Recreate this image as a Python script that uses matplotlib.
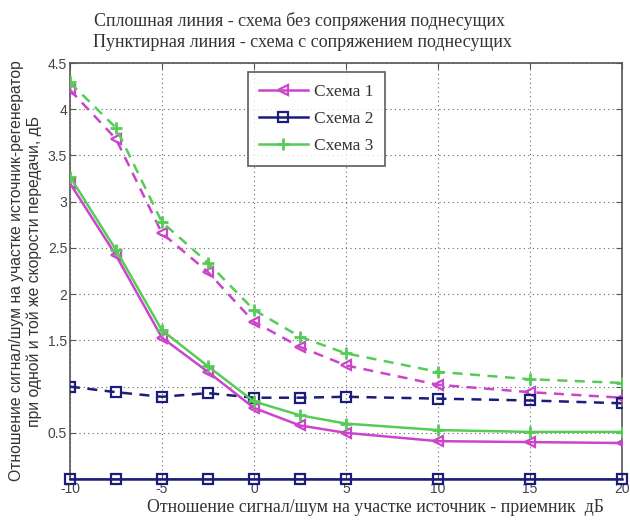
import matplotlib
matplotlib.use("Agg")
import matplotlib.pyplot as plt
import numpy as np

x = [-10, -7.5, -5, -2.5, 0, 2.5, 5, 10, 15, 20]

s1_solid = [3.20, 2.42, 1.53, 1.16, 0.77, 0.58, 0.50, 0.41, 0.40, 0.39]
s2_solid = [0, 0, 0, 0, 0, 0, 0, 0, 0, 0]
s3_solid = [3.27, 2.48, 1.61, 1.22, 0.84, 0.69, 0.60, 0.53, 0.51, 0.51]

s1_dash = [4.21, 3.68, 2.66, 2.24, 1.70, 1.43, 1.23, 1.02, 0.94, 0.88]
s2_dash = [1.00, 0.94, 0.89, 0.93, 0.88, 0.88, 0.89, 0.87, 0.85, 0.82]
s3_dash = [4.29, 3.80, 2.78, 2.34, 1.83, 1.54, 1.36, 1.16, 1.08, 1.04]

labels = ["Схема 1", "Схема 2", "Схема 3"]
title_lines = ["Сплошная линия - схема без сопряжения поднесущих",
               "Пунктирная линия - схема с сопряжением поднесущих"]
xlabel = "Отношение сигнал/шум на участке источник - приемник  дБ"
ylabel = ("Отношение сигнал/шум на участке источник-регенератор\n"
          "при одной и той же скорости передачи, дБ")
xticks = [-10, -5, 0, 5, 10, 15, 20]
yticks = [0, 0.5, 1, 1.5, 2, 2.5, 3, 3.5, 4, 4.5]
yticklabels = ["", "0.5", "", "1.5", "2", "2.5", "3", "3.5", "4", "4.5"]

c1 = "#cc44cc"
c2 = "#1c1c7a"
c3 = "#55cc55"

serif = ["Liberation Serif", "DejaVu Serif"]
sans = ["Liberation Sans", "DejaVu Sans"]

fig = plt.figure(figsize=(6.3, 5.23), dpi=100)
ax = fig.add_axes([0.111, 0.084, 0.876, 0.7955])

lw = 1.8
ms = 7
ax.plot(x, s1_dash, color=c1, ls=(0, (4, 3)), lw=lw, marker="<", ms=ms, mfc="none", mew=1.6, zorder=3)
ax.plot(x, s2_dash, color=c2, ls=(0, (4, 3)), lw=lw, marker="s", ms=ms, mfc="none", mew=1.6, zorder=3)
ax.plot(x, s3_dash, color=c3, ls=(0, (4, 3)), lw=lw, marker="+", ms=9, mew=2, zorder=3)

ax.plot(x, s1_solid, color=c1, ls="-", lw=lw, marker="<", ms=ms, mfc="none", mew=1.6, label=labels[0], zorder=4)
ax.plot(x, s2_solid, color=c2, ls="-", lw=lw, marker="s", ms=ms, mfc="none", mew=1.6, label=labels[1], zorder=4, clip_on=False)
ax.plot(x, s3_solid, color=c3, ls="-", lw=lw, marker="+", ms=9, mew=2, label=labels[2], zorder=4)

ax.set_xlim(-10, 20)
ax.set_ylim(0, 4.5)
ax.set_xticks(xticks)
ax.set_xticklabels([str(t) for t in xticks], fontfamily=sans, fontsize=10, color="#444444")
ax.set_yticks(yticks)
ax.set_yticklabels(yticklabels, fontfamily=sans, fontsize=10, color="#444444")
ax.tick_params(direction="in", top=True, right=True, length=4, color="#555555", pad=2)
ax.grid(True, ls=(0, (1, 3)), color="#666666", lw=0.8)
for sp in ax.spines.values():
    sp.set_color("#555555")
    sp.set_linewidth(1.2)

ax.set_xlabel(xlabel, fontfamily=serif, fontsize=12.8, color="#333333", labelpad=2, x=0.554)
ax.set_ylabel(ylabel, fontfamily=sans, fontsize=11.3, color="#333333", labelpad=4)
fig.text(0.476, 0.960, title_lines[0], ha="center", va="center", fontfamily=serif, fontsize=13, color="#333333")
fig.text(0.480, 0.918, title_lines[1], ha="center", va="center", fontfamily=serif, fontsize=13, color="#333333")

leg = ax.legend(loc="upper left", bbox_to_anchor=(0.322, 0.978), borderaxespad=0,
                prop={"family": serif, "size": 12.5},
                frameon=True, fancybox=False, edgecolor="#333333", handlelength=2.8, borderpad=0.65,
                labelspacing=0.65, handletextpad=0.4)
leg.get_frame().set_linewidth(1.2)
for t in leg.get_texts():
    t.set_color("#333333")

fig.savefig("out.png", dpi=100)
